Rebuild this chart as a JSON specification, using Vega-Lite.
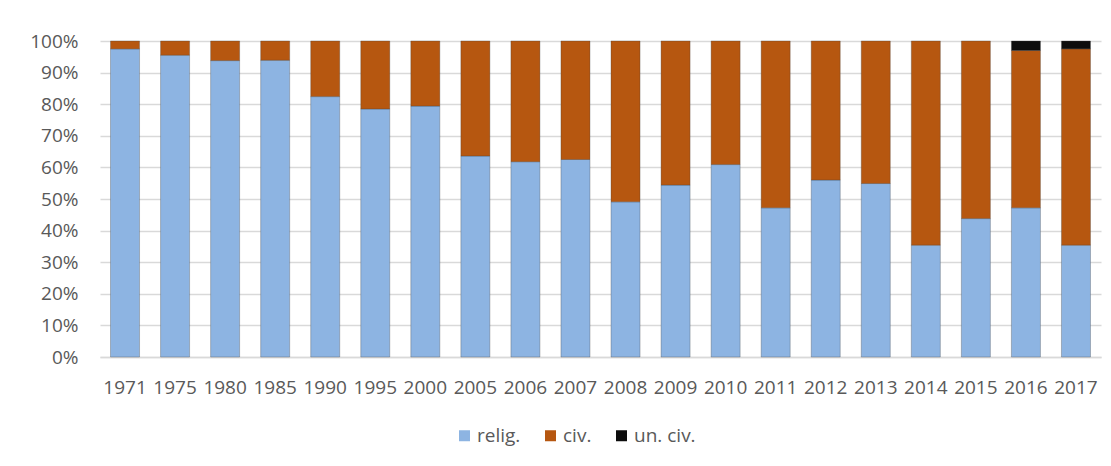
{
  "$schema": "https://vega.github.io/schema/vega-lite/v6.json",
  "autosize": {"type": "none"},
  "padding": {"left": 100, "top": 41, "right": 10, "bottom": 109},
  "width": 1001,
  "height": 316,
  "background": "white",
  "data": {
    "values": [
      {"year": "1971", "type": "relig.", "o": 1, "share": 0.975},
      {"year": "1971", "type": "civ.", "o": 2, "share": 0.025},
      {"year": "1975", "type": "relig.", "o": 1, "share": 0.955},
      {"year": "1975", "type": "civ.", "o": 2, "share": 0.045},
      {"year": "1980", "type": "relig.", "o": 1, "share": 0.938},
      {"year": "1980", "type": "civ.", "o": 2, "share": 0.062},
      {"year": "1985", "type": "relig.", "o": 1, "share": 0.939},
      {"year": "1985", "type": "civ.", "o": 2, "share": 0.061},
      {"year": "1990", "type": "relig.", "o": 1, "share": 0.824},
      {"year": "1990", "type": "civ.", "o": 2, "share": 0.176},
      {"year": "1995", "type": "relig.", "o": 1, "share": 0.785},
      {"year": "1995", "type": "civ.", "o": 2, "share": 0.215},
      {"year": "2000", "type": "relig.", "o": 1, "share": 0.794},
      {"year": "2000", "type": "civ.", "o": 2, "share": 0.206},
      {"year": "2005", "type": "relig.", "o": 1, "share": 0.636},
      {"year": "2005", "type": "civ.", "o": 2, "share": 0.364},
      {"year": "2006", "type": "relig.", "o": 1, "share": 0.618},
      {"year": "2006", "type": "civ.", "o": 2, "share": 0.382},
      {"year": "2007", "type": "relig.", "o": 1, "share": 0.625},
      {"year": "2007", "type": "civ.", "o": 2, "share": 0.375},
      {"year": "2008", "type": "relig.", "o": 1, "share": 0.491},
      {"year": "2008", "type": "civ.", "o": 2, "share": 0.509},
      {"year": "2009", "type": "relig.", "o": 1, "share": 0.544},
      {"year": "2009", "type": "civ.", "o": 2, "share": 0.456},
      {"year": "2010", "type": "relig.", "o": 1, "share": 0.609},
      {"year": "2010", "type": "civ.", "o": 2, "share": 0.391},
      {"year": "2011", "type": "relig.", "o": 1, "share": 0.472},
      {"year": "2011", "type": "civ.", "o": 2, "share": 0.528},
      {"year": "2012", "type": "relig.", "o": 1, "share": 0.560},
      {"year": "2012", "type": "civ.", "o": 2, "share": 0.440},
      {"year": "2013", "type": "relig.", "o": 1, "share": 0.549},
      {"year": "2013", "type": "civ.", "o": 2, "share": 0.451},
      {"year": "2014", "type": "relig.", "o": 1, "share": 0.354},
      {"year": "2014", "type": "civ.", "o": 2, "share": 0.646},
      {"year": "2015", "type": "relig.", "o": 1, "share": 0.438},
      {"year": "2015", "type": "civ.", "o": 2, "share": 0.562},
      {"year": "2016", "type": "relig.", "o": 1, "share": 0.472},
      {"year": "2016", "type": "civ.", "o": 2, "share": 0.498},
      {"year": "2016", "type": "un. civ.", "o": 3, "share": 0.030},
      {"year": "2017", "type": "relig.", "o": 1, "share": 0.354},
      {"year": "2017", "type": "civ.", "o": 2, "share": 0.621},
      {"year": "2017", "type": "un. civ.", "o": 3, "share": 0.025}
    ]
  },
  "mark": {"type": "bar", "stroke": "#3a3a3a", "strokeOpacity": 0.3, "strokeWidth": 1},
  "encoding": {
    "x": {
      "field": "year", "type": "ordinal", "sort": null,
      "scale": {"paddingInner": 0.42, "paddingOuter": 0.21},
      "axis": {
        "title": null, "labelAngle": 0, "ticks": false, "domain": true,
        "domainColor": "#D9D9D9", "domainWidth": 1.5,
        "labelFont": "Open Sans", "labelFontSize": 19, "labelColor": "#595959",
        "labelPadding": 21, "labelOverlap": false
      }
    },
    "y": {
      "field": "share", "type": "quantitative", "stack": "zero",
      "scale": {"domain": [0, 1], "nice": false},
      "axis": {
        "title": null, "format": ".0%", "values": [0, 0.1, 0.2, 0.3, 0.4, 0.5, 0.6, 0.7, 0.8, 0.9, 1],
        "ticks": false, "domain": false, "grid": true, "gridColor": "#D9D9D9", "gridWidth": 1.5,
        "labelFont": "Open Sans", "labelFontSize": 19, "labelColor": "#595959",
        "labelPadding": 22, "labelOverlap": false, "labelFlush": false
      }
    },
    "color": {
      "field": "type", "type": "nominal",
      "scale": {"domain": ["relig.", "civ.", "un. civ."], "range": ["#8DB4E2", "#B65710", "#0D0D0D"]},
      "legend": {
        "title": null, "orient": "none", "direction": "horizontal",
        "legendX": 355, "legendY": 385, "padding": 0,
        "symbolType": "square", "symbolSize": 121, "symbolStrokeWidth": 0,
        "labelFont": "Open Sans", "labelFontSize": 19, "labelColor": "#595959",
        "labelOffset": 3, "columnPadding": 20
      }
    },
    "order": {"field": "o", "type": "quantitative"}
  },
  "config": {
    "view": {"stroke": null}
  }
}
